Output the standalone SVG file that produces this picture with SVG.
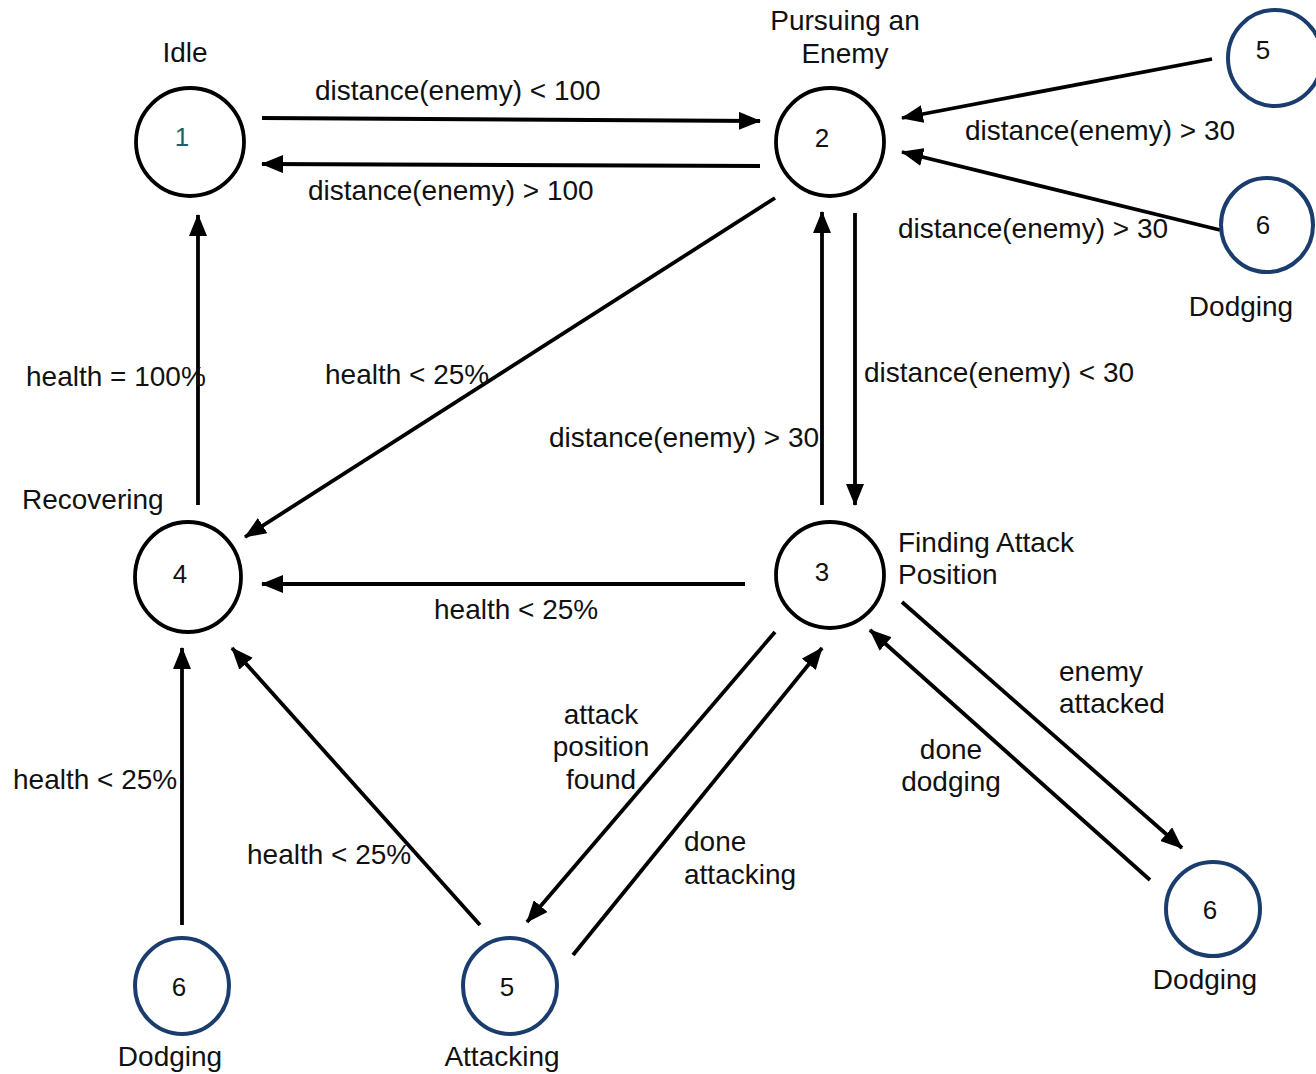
<svg xmlns="http://www.w3.org/2000/svg" width="1316" height="1074" viewBox="0 0 1316 1074">
<style>
.bg{fill:#ffffff}
.st{fill:none;stroke:#000000;stroke-width:3.8}
.sb{fill:none;stroke:#1b3d6d;stroke-width:4}
.num{font-family:"Liberation Sans",Arial,sans-serif;font-size:26px;fill:#111111;text-anchor:middle;dominant-baseline:central}
.lbl{font-family:"Liberation Sans",Arial,sans-serif;font-size:28px;fill:#111111}
.c{text-anchor:middle}
.e{fill:none;stroke:#000000;stroke-width:3.8;marker-end:url(#ah)}
</style>
<defs>
<marker id="ah" viewBox="0 0 22 18" refX="21" refY="9" markerWidth="22" markerHeight="18" markerUnits="userSpaceOnUse" orient="auto">
<path d="M0,0 L22,9 L0,18 z" fill="#000000"/>
</marker>
</defs>
<rect class="bg" x="0" y="0" width="1316" height="1074"/>
<g id="connectors">
<line class="e" x1="262" y1="118" x2="760" y2="121"/>
<line class="e" x1="760" y1="166" x2="262" y2="164"/>
<line class="e" x1="1212" y1="59" x2="902" y2="118"/>
<line class="e" x1="1220" y1="230" x2="902" y2="152"/>
<line class="e" x1="775" y1="198" x2="245" y2="537"/>
<line class="e" x1="822" y1="505" x2="822" y2="212"/>
<line class="e" x1="855" y1="213" x2="855" y2="505"/>
<line class="e" x1="198" y1="505" x2="198" y2="215"/>
<line class="e" x1="745" y1="584" x2="262" y2="584"/>
<line class="e" x1="775" y1="632" x2="527" y2="922"/>
<line class="e" x1="573" y1="955" x2="822" y2="648"/>
<line class="e" x1="902" y1="602" x2="1182" y2="848"/>
<line class="e" x1="1150" y1="880" x2="870" y2="630"/>
<line class="e" x1="480" y1="925" x2="232" y2="648"/>
<line class="e" x1="182" y1="925" x2="182" y2="648"/>
<text class="lbl" x="315" y="100">distance(enemy) &lt; 100</text>
<text class="lbl" x="308" y="200">distance(enemy) &gt; 100</text>
<text class="lbl" x="965" y="140">distance(enemy) &gt; 30</text>
<text class="lbl" x="898" y="238">distance(enemy) &gt; 30</text>
<text class="lbl" x="26" y="386">health = 100%</text>
<text class="lbl" x="325" y="384">health &lt; 25%</text>
<text class="lbl" x="864" y="382">distance(enemy) &lt; 30</text>
<text class="lbl" x="549" y="447">distance(enemy) &gt; 30</text>
<text class="lbl" x="434" y="619">health &lt; 25%</text>
<text class="lbl" x="1059" y="681">enemy</text>
<text class="lbl" x="1059" y="713">attacked</text>
<text class="lbl c" x="601" y="724">attack</text>
<text class="lbl c" x="601" y="756">position</text>
<text class="lbl c" x="601" y="789">found</text>
<text class="lbl c" x="951" y="759">done</text>
<text class="lbl c" x="951" y="791">dodging</text>
<text class="lbl" x="13" y="789">health &lt; 25%</text>
<text class="lbl" x="684" y="851">done</text>
<text class="lbl" x="684" y="884">attacking</text>
<text class="lbl" x="247" y="864">health &lt; 25%</text>
</g>
<g id="node1">
<ellipse class="st" cx="190" cy="142" rx="54" ry="54"/>
<text class="num" x="182" y="137" style="fill:#1f5f6f">1</text>
<text class="lbl c" x="185" y="62">Idle</text>
</g>
<g id="node2">
<ellipse class="st" cx="830" cy="142" rx="54" ry="54"/>
<text class="num" x="822" y="138">2</text>
<text class="lbl c" x="845" y="30">Pursuing an</text>
<text class="lbl c" x="845" y="63">Enemy</text>
</g>
<g id="node3">
<ellipse class="st" cx="830" cy="575" rx="54" ry="53"/>
<text class="num" x="822" y="572">3</text>
<text class="lbl" x="898" y="552">Finding Attack</text>
<text class="lbl" x="898" y="584">Position</text>
</g>
<g id="node4">
<ellipse class="st" cx="188" cy="577" rx="53" ry="55"/>
<text class="num" x="180" y="574">4</text>
<text class="lbl" x="22" y="509">Recovering</text>
</g>
<g id="node5a">
<ellipse class="sb" cx="1275" cy="58" rx="47" ry="48"/>
<text class="num" x="1263" y="50">5</text>
</g>
<g id="node6a">
<ellipse class="sb" cx="1267" cy="225" rx="46" ry="47"/>
<text class="num" x="1263" y="225">6</text>
<text class="lbl c" x="1241" y="316">Dodging</text>
</g>
<g id="node6b">
<ellipse class="sb" cx="1213" cy="909" rx="47" ry="47"/>
<text class="num" x="1210" y="910">6</text>
<text class="lbl c" x="1205" y="989">Dodging</text>
</g>
<g id="node5b">
<ellipse class="sb" cx="510" cy="986" rx="47" ry="48"/>
<text class="num" x="507" y="987">5</text>
<text class="lbl c" x="502" y="1066">Attacking</text>
</g>
<g id="node6c">
<ellipse class="sb" cx="182" cy="986" rx="47" ry="48"/>
<text class="num" x="179" y="987">6</text>
<text class="lbl c" x="170" y="1066">Dodging</text>
</g>
</svg>
